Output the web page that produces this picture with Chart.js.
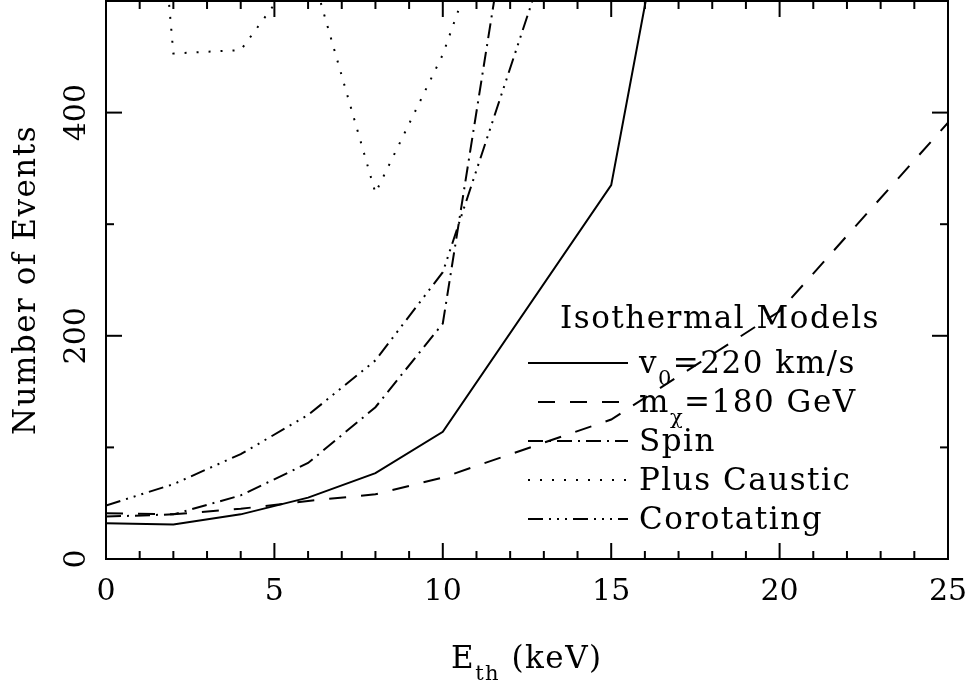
<!DOCTYPE html>
<html>
<head>
<meta charset="utf-8">
<script src="https://cdn.jsdelivr.net/npm/chart.js@4.4.1/dist/chart.umd.min.js"></script>
<style>
  html, body { margin: 0; padding: 0; background: #fff; }
  #wrap { width: 975px; height: 681px; }
</style>
</head>
<body>
<div id="wrap"><canvas id="eventsChart" width="975" height="681"></canvas></div>
<script>
// Number of events vs threshold energy
const xSolid = [0, 2, 4, 6, 8, 10, 15, 20];
const ySolid = [32, 31, 40, 55, 77, 114, 335, 1140];          // v0 = 220 km/s

const xDashed = [0, 2, 4, 6, 8, 10, 15, 20, 25];
const yDashed = [41, 40, 45, 52, 58, 73, 125, 222, 391];     // m_chi = 180 GeV

const xSpin = [0, 2, 4, 6, 8, 10, 15];
const ySpin = [38, 40, 57, 86, 136, 211, 1160];

const xCaustic = [0, 2, 4, 6, 8, 10, 15];
const yCaustic = [1150, 453, 456, 538, 328, 452, 880];

const xCorot = [0, 2, 4, 6, 8, 10, 15];
const yCorot = [48, 67, 94, 129, 178, 257, 714];

const xTickLabels = ['0', '5', '10', '15', '20', '25'];
const yTickLabels = ['0', '200', '400'];

const FONT = "'DejaVu Serif', 'Liberation Serif', serif";

// pair up x and y arrays for a linear x scale
const toPoints = (xs, ys) => xs.map((x, i) => ({ x: x, y: ys[i] }));

const dashes = {
  solid: [],
  dashed: [17, 15],
  spin: [15, 6, 2, 6],
  caustic: [2, 10],
  corot: [15, 6, 2, 6, 2, 6, 2, 6],
};

const makeSet = (label, xs, ys, dash) => ({
  label: label,
  data: toPoints(xs, ys),
  borderColor: '#000',
  borderWidth: 2,
  borderDash: dash,
  pointRadius: 0,
  tension: 0,
  fill: false,
});

// draws a string made of normal and subscript pieces, left aligned
function drawParts(ctx, x, y, parts, size) {
  let cx = x;
  parts.forEach(([txt, sub]) => {
    ctx.font = (sub ? Math.round(size * 0.68) : size) + 'px ' + FONT;
    ctx.fillText(txt, cx, sub ? y + 12 : y);
    cx += ctx.measureText(txt).width;
  });
}

const framePlugin = {
  id: 'framePlugin',
  afterDraw(chart) {
    const { ctx, chartArea: a, scales } = chart;
    const xs = scales.x, ys = scales.y;
    ctx.save();
    ctx.strokeStyle = '#000';
    ctx.fillStyle = '#000';
    ctx.lineWidth = 2;
    ctx.setLineDash([]);
    ctx.strokeRect(a.left, a.top, a.right - a.left, a.bottom - a.top);

    const seg = (x1, y1, x2, y2) => {
      ctx.beginPath(); ctx.moveTo(x1, y1); ctx.lineTo(x2, y2); ctx.stroke();
    };

    // x ticks: every 1, long every 5, bottom and top
    for (let v = 0; v <= 25; v++) {
      const px = xs.getPixelForValue(v);
      const len = v % 5 === 0 ? 16 : 8;
      seg(px, a.bottom, px, a.bottom - len);
      seg(px, a.top, px, a.top + len);
    }
    // y ticks: every 100, long every 200, left and right
    for (let v = 0; v <= 500; v += 100) {
      const py = ys.getPixelForValue(v);
      const len = v % 200 === 0 ? 16 : 8;
      seg(a.left, py, a.left + len, py);
      seg(a.right, py, a.right - len, py);
    }

    // tick labels
    ctx.font = '30px ' + FONT;
    ctx.textAlign = 'center';
    ctx.textBaseline = 'alphabetic';
    xTickLabels.forEach(t => {
      ctx.fillText(t, xs.getPixelForValue(Number(t)), 600);
    });
    yTickLabels.forEach(t => {
      ctx.save();
      ctx.translate(85, ys.getPixelForValue(Number(t)));
      ctx.rotate(-Math.PI / 2);
      ctx.fillText(t, 0, 0);
      ctx.restore();
    });

    // the original lettering is wider than DejaVu, so open it up a little
    ctx.letterSpacing = '1.5px';

    // axis titles
    ctx.save();
    ctx.translate(35, 280);
    ctx.rotate(-Math.PI / 2);
    ctx.font = '31px ' + FONT;
    ctx.fillText('Number of Events', 0, 0);
    ctx.restore();

    ctx.textAlign = 'left';
    drawParts(ctx, 451, 668, [['E', false], ['th', true], [' (keV)', false]], 31);

    // legend
    ctx.font = '31px ' + FONT;
    ctx.textAlign = 'center';
    ctx.fillText('Isothermal Models', 720, 328);
    ctx.textAlign = 'left';
    const entries = [
      { dash: dashes.solid, x0: 528, parts: [['v', false], ['0', true], ['=220 km/s', false]] },
      { dash: dashes.dashed, x0: 538, parts: [['m', false], ['\u03c7', true], ['=180 GeV', false]] },
      { dash: dashes.spin, x0: 528, parts: [['Spin', false]] },
      { dash: dashes.caustic, x0: 528, parts: [['Plus Caustic', false]] },
      { dash: dashes.corot, x0: 528, parts: [['Corotating', false]] },
    ];
    entries.forEach((e, i) => {
      const base = 373 + i * 39;
      ctx.setLineDash(e.dash);
      seg(e.x0, base - 10, 628, base - 10);
      ctx.setLineDash([]);
      drawParts(ctx, 639, base, e.parts, 31);
    });
    ctx.restore();
  },
};

const ctx = document.getElementById('eventsChart').getContext('2d');
new Chart(ctx, {
  type: 'line',
  data: {
    datasets: [
      makeSet('v0=220 km/s', xSolid, ySolid, dashes.solid),
      makeSet('m_chi=180 GeV', xDashed, yDashed, dashes.dashed),
      makeSet('Spin', xSpin, ySpin, dashes.spin),
      makeSet('Plus Caustic', xCaustic, yCaustic, dashes.caustic),
      makeSet('Corotating', xCorot, yCorot, dashes.corot),
    ],
  },
  options: {
    responsive: false,
    animation: false,
    layout: { padding: { left: 106, right: 27, top: 1, bottom: 122 } },
    scales: {
      x: { type: 'linear', min: 0, max: 25, display: false },
      y: { type: 'linear', min: 0, max: 500, display: false },
    },
    plugins: {
      legend: { display: false },
      tooltip: { enabled: false },
    },
  },
  plugins: [framePlugin],
});
</script>
</body>
</html>
